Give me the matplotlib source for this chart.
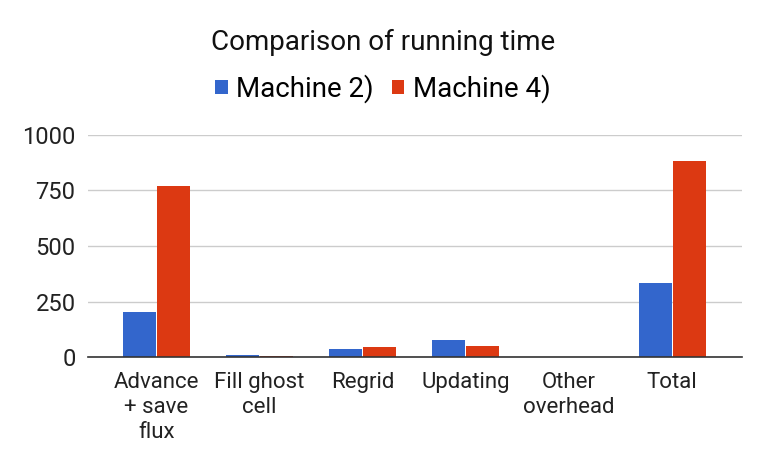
import matplotlib.pyplot as plt
import numpy as np

plt.rcParams['font.family'] = ['Roboto', 'DejaVu Sans']

categories = ['Advance\n+ save\nflux', 'Fill ghost\ncell', 'Regrid', 'Updating', 'Other\noverhead', 'Total']
machine2 = [201, 9, 36, 77, 0, 332]
machine4 = [770, 4, 45, 51, 0, 883]
yticks = [0, 250, 500, 750, 1000]

fig = plt.figure(figsize=(7.66, 4.73), dpi=100)
ax = fig.add_axes([0.115, 0.245, 0.854, 0.47])

x = np.arange(len(categories))
w = 0.32
ax.bar(x - w / 2 - 0.005, machine2, w, color='#3366cc', label='Machine 2)')
ax.bar(x + w / 2 + 0.005, machine4, w, color='#dc3912', label='Machine 4)')

ax.set_xlim(-0.66, len(categories) - 0.32)
ax.set_ylim(0, 1000)
ax.set_yticks(yticks)
ax.set_yticklabels([str(v) for v in yticks], fontsize=17, color='#222222')
ax.set_xticks(x)
ax.set_xticklabels(categories, fontsize=16, color='#222222', linespacing=1.25, va='top')
ax.tick_params(length=0, pad=9)
ax.tick_params(axis='x', pad=11)
ax.grid(axis='y', color='#cccccc', linewidth=1)
ax.set_axisbelow(True)
for s in ['top', 'right', 'left']:
    ax.spines[s].set_visible(False)
ax.spines['bottom'].set_color('#333333')
ax.spines['bottom'].set_linewidth(1.2)

fig.text(0.5, 0.911, 'Comparison of running time', ha='center', va='center', fontsize=20, color='#111111')
fig.legend(loc='center', bbox_to_anchor=(0.5, 0.812), ncol=2, frameon=False, fontsize=20,
           handlelength=0.45, handleheight=0.45, handletextpad=0.3, columnspacing=0.65)

fig.savefig('out.png', dpi=100)
